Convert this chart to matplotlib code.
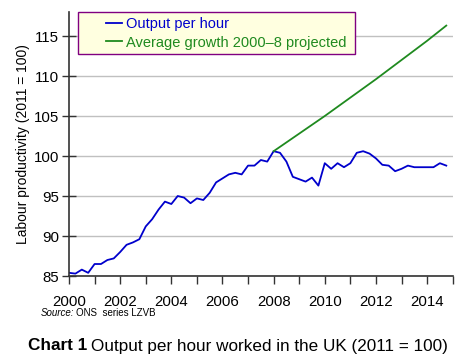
import numpy as np
import matplotlib.pyplot as plt
from matplotlib.patches import Rectangle
from matplotlib.ticker import MultipleLocator

plt.rcParams['font.family'] = ['Liberation Sans', 'DejaVu Sans']

# quarterly output per hour, 2000Q1 .. 2014Q4
quarters = 2000 + np.arange(60) * 0.25
output = [85.4, 85.3, 85.8, 85.4, 86.5, 86.5, 87.0, 87.2, 88.0, 88.9,
          89.2, 89.6, 91.2, 92.1, 93.3, 94.3, 94.0, 95.0, 94.8, 94.1,
          94.7, 94.5, 95.4, 96.7, 97.2, 97.7, 97.9, 97.7, 98.8, 98.8,
          99.5, 99.3, 100.6, 100.4, 99.3, 97.4, 97.1, 96.8, 97.3, 96.3,
          99.1, 98.4, 99.1, 98.6, 99.1, 100.4, 100.6, 100.3, 99.7, 98.9,
          98.8, 98.1, 98.4, 98.8, 98.6, 98.6, 98.6, 98.6, 99.1, 98.8]

# projected trend
proj_years = [2008, 2010, 2012, 2014, 2014.75]
proj_vals = [100.6, 105.0, 109.6, 114.4, 116.3]

blue = '#0000cc'
green = '#1f8a1f'

fig = plt.figure(figsize=(4.74, 3.55), dpi=100)
ax = fig.add_axes([0.1456, 0.2225, 0.8094, 0.7437])

ax.plot(quarters, output, color=blue, lw=1.3, label='Output per hour')
ax.plot(proj_years, proj_vals, color=green, lw=1.3, label='Average growth 2000\u20138 projected')

ax.set_xlim(2000, 2015)
ax.set_ylim(85, 118)
ax.set_xticks(np.arange(2000, 2015, 2))
ax.xaxis.set_minor_locator(MultipleLocator(1))
ax.set_yticks(np.arange(85, 116, 5))
ax.yaxis.grid(True, color='#c0c0c0', lw=1)
ax.set_axisbelow(True)
for s in ['top', 'right']:
    ax.spines[s].set_visible(False)
for s in ['left', 'bottom']:
    ax.spines[s].set_color('#333333')
    ax.spines[s].set_linewidth(1.2)
ax.tick_params(axis='both', which='both', direction='inout', length=10, width=1, color='#333333',
               labelsize=10.8, pad=2)
ax.tick_params(axis='x', which='both', direction='out', length=6, pad=8)
ax.set_ylabel('Labour productivity (2011 = 100)', fontsize=10, labelpad=3)

# legend box
ax.add_patch(Rectangle((0.024, 0.841), 0.722, 0.16, transform=ax.transAxes,
                       facecolor='#ffffe0', edgecolor='#800080', lw=1, zorder=3, clip_on=False))
leg = ax.legend(loc='upper left', bbox_to_anchor=(0.062, 1.03), frameon=False,
                fontsize=10.5, handlelength=1.1, handletextpad=0.25, labelspacing=0.3,
                labelcolor='linecolor')
leg.set_zorder(4)

fig.canvas.draw()
r = fig.canvas.get_renderer()

ys = 1 - 313 / 355
s1 = fig.text(41 / 474, ys, 'Source:', fontsize=7, style='italic', va='center')
bb = s1.get_window_extent(r)
fig.text((bb.x1 + 2) / 474, ys, 'ONS  series LZVB', fontsize=7, va='center')

yt = 1 - 346 / 355
t1 = fig.text(28 / 474, yt, 'Chart 1', fontsize=12.3, weight='bold', va='center')
bb = t1.get_window_extent(r)
fig.text((bb.x1 + 4) / 474, yt, 'Output per hour worked in the UK (2011 = 100)',
         fontsize=12.3, va='center')

fig.savefig('out.png', dpi=100)
